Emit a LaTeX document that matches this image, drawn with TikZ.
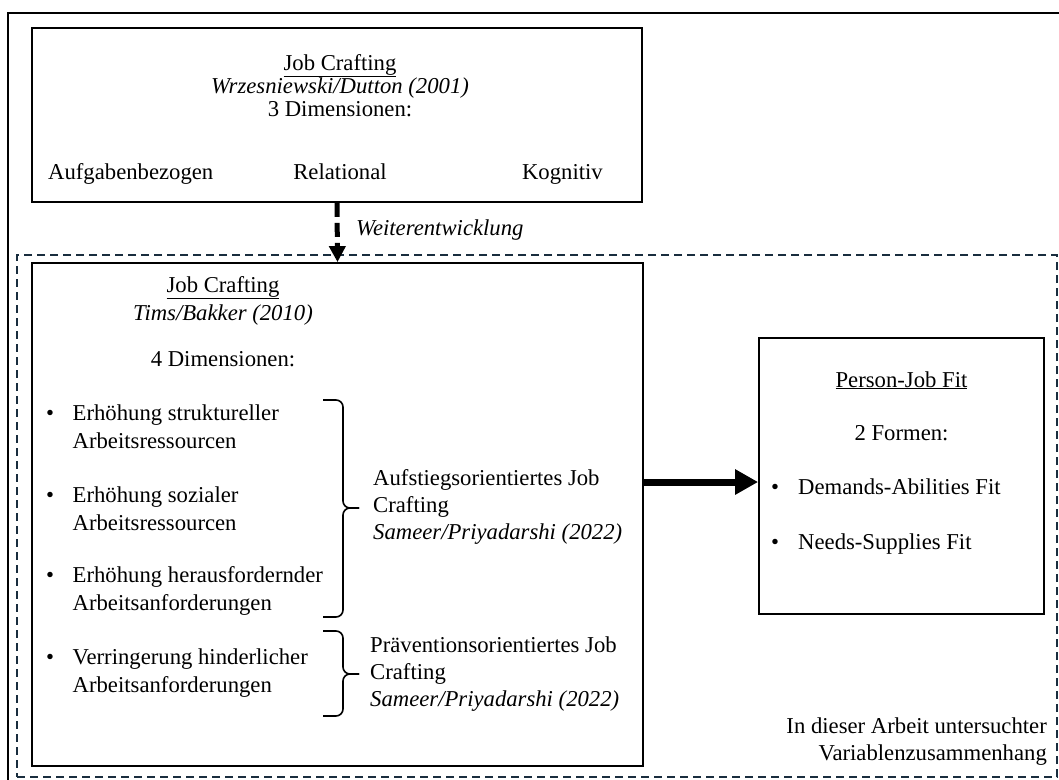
\documentclass[tikz,border=0pt]{standalone}
\usepackage{fontspec}
\setmainfont{Liberation Serif}
\usetikzlibrary{arrows.meta}
\definecolor{navy}{RGB}{25,45,62}
\begin{document}
\begin{tikzpicture}[x=1pt,y=-1pt,
  txt/.style={inner sep=0pt, font=\fontsize{22.7}{28}\selectfont},
  box/.style={draw, line width=1.8pt, inner sep=0pt},
  brace/.style={line width=1.6pt, rounded corners=7pt}]
\clip (0,0) rectangle (1059,779);
\fill[white] (0,0) rectangle (1059,779);
% outer frame (cut off at right and bottom)
\draw[line width=2pt] (8,800) -- (8,13) -- (1080,13);
% dashed frame
\node[draw=navy, line width=1.5pt, dash pattern=on 8pt off 5pt, inner sep=0pt,
      minimum width=1040, minimum height=522] (frame) at (537,516) {};
% boxes
\node[box, minimum width=610, minimum height=174] (tb) at (337,115) {};
\node[box, minimum width=611, minimum height=503] (lb) at (337.5,514.5) {};
\node[box, minimum width=285, minimum height=276] (pj) at (901.5,476) {};
% top box texts
\node[txt, anchor=base] (t1) at (340,70) {\underline{Job Crafting}};
\node[txt, anchor=base] (t2) at (340,93) {\itshape Wrzesniewski/Dutton (2001)};
\node[txt, anchor=base] (t3) at (340,116) {3 Dimensionen:};
\node[txt, anchor=base west] (t4) at (48,179) {Aufgabenbezogen};
\node[txt, anchor=base] (t5) at (340,179) {Relational};
\node[txt, anchor=base east] (t6) at (603,179) {Kognitiv};
% dashed arrow
\draw[line width=5pt, dash pattern=on 14pt off 6pt, -{Triangle[length=16pt,width=16pt]}] (tb.south) -- (lb.north);
\node[txt, anchor=base west] (w) at (356,235) {\itshape Weiterentwicklung};
% left box texts
\node[txt, anchor=base] (l1) at (223,292) {\underline{Job Crafting}};
\node[txt, anchor=base] (l2) at (223,320) {\itshape Tims/Bakker (2010)};
\node[txt, anchor=base] (l3) at (223,366) {4 Dimensionen:};
\node[txt, anchor=base] (b1) at (50,420) {•};
\node[txt, anchor=base west] (i1a) at (72.5,420) {Erhöhung struktureller};
\node[txt, anchor=base west] (i1b) at (72.5,448) {Arbeitsressourcen};
\node[txt, anchor=base] (b2) at (50,502) {•};
\node[txt, anchor=base west] (i2a) at (72.5,502) {Erhöhung sozialer};
\node[txt, anchor=base west] (i2b) at (72.5,530) {Arbeitsressourcen};
\node[txt, anchor=base] (b3) at (50,582) {•};
\node[txt, anchor=base west] (i3a) at (72.5,582) {Erhöhung herausfordernder};
\node[txt, anchor=base west] (i3b) at (72.5,610) {Arbeitsanforderungen};
\node[txt, anchor=base] (b4) at (50,664) {•};
\node[txt, anchor=base west] (i4a) at (72.5,664) {Verringerung hinderlicher};
\node[txt, anchor=base west] (i4b) at (72.5,692) {Arbeitsanforderungen};
% braces
\coordinate (br1) at (359,508);
\coordinate (br2) at (359,674);
\draw[brace] (323,400) -| (343,508) -- (br1);
\draw[brace] (323,617) -| (343,508) -- (br1);
\draw[brace] (323,631) -| (343,674) -- (br2);
\draw[brace] (323,716) -| (343,674) -- (br2);
% brace labels
\node[txt, anchor=base west] (a1) at (373,485) {Aufstiegsorientiertes Job};
\node[txt, anchor=base west] (a2) at (373,512) {Crafting};
\node[txt, anchor=base west] (a3) at (373,539) {\itshape Sameer/Priyadarshi (2022)};
\node[txt, anchor=base west] (p1) at (370,652) {Präventionsorientiertes Job};
\node[txt, anchor=base west] (p2) at (370,679) {Crafting};
\node[txt, anchor=base west] (p3) at (370,706) {\itshape Sameer/Priyadarshi (2022)};
% thick arrow
\coordinate (ay) at (700,482);
\draw[line width=7pt, -{Triangle[length=23pt,width=24pt]}] (lb.east |- ay) -- (pj.west |- ay);
% person-job fit texts
\node[txt, anchor=base] (r1) at (901.5,387) {\underline{Person-Job Fit}};
\node[txt, anchor=base] (r2) at (901.5,440) {2 Formen:};
\node[txt, anchor=base] (rb1) at (775,494) {•};
\node[txt, anchor=base west] (r3) at (798,494) {Demands-Abilities Fit};
\node[txt, anchor=base] (rb2) at (775,549) {•};
\node[txt, anchor=base west] (r4) at (798,549) {Needs-Supplies Fit};
% frame caption
\node[txt, anchor=base east] (c1) at (1047,733) {In dieser Arbeit untersuchter};
\node[txt, anchor=base east] (c2) at (1047,760) {Variablenzusammenhang};
\end{tikzpicture}
\end{document}
